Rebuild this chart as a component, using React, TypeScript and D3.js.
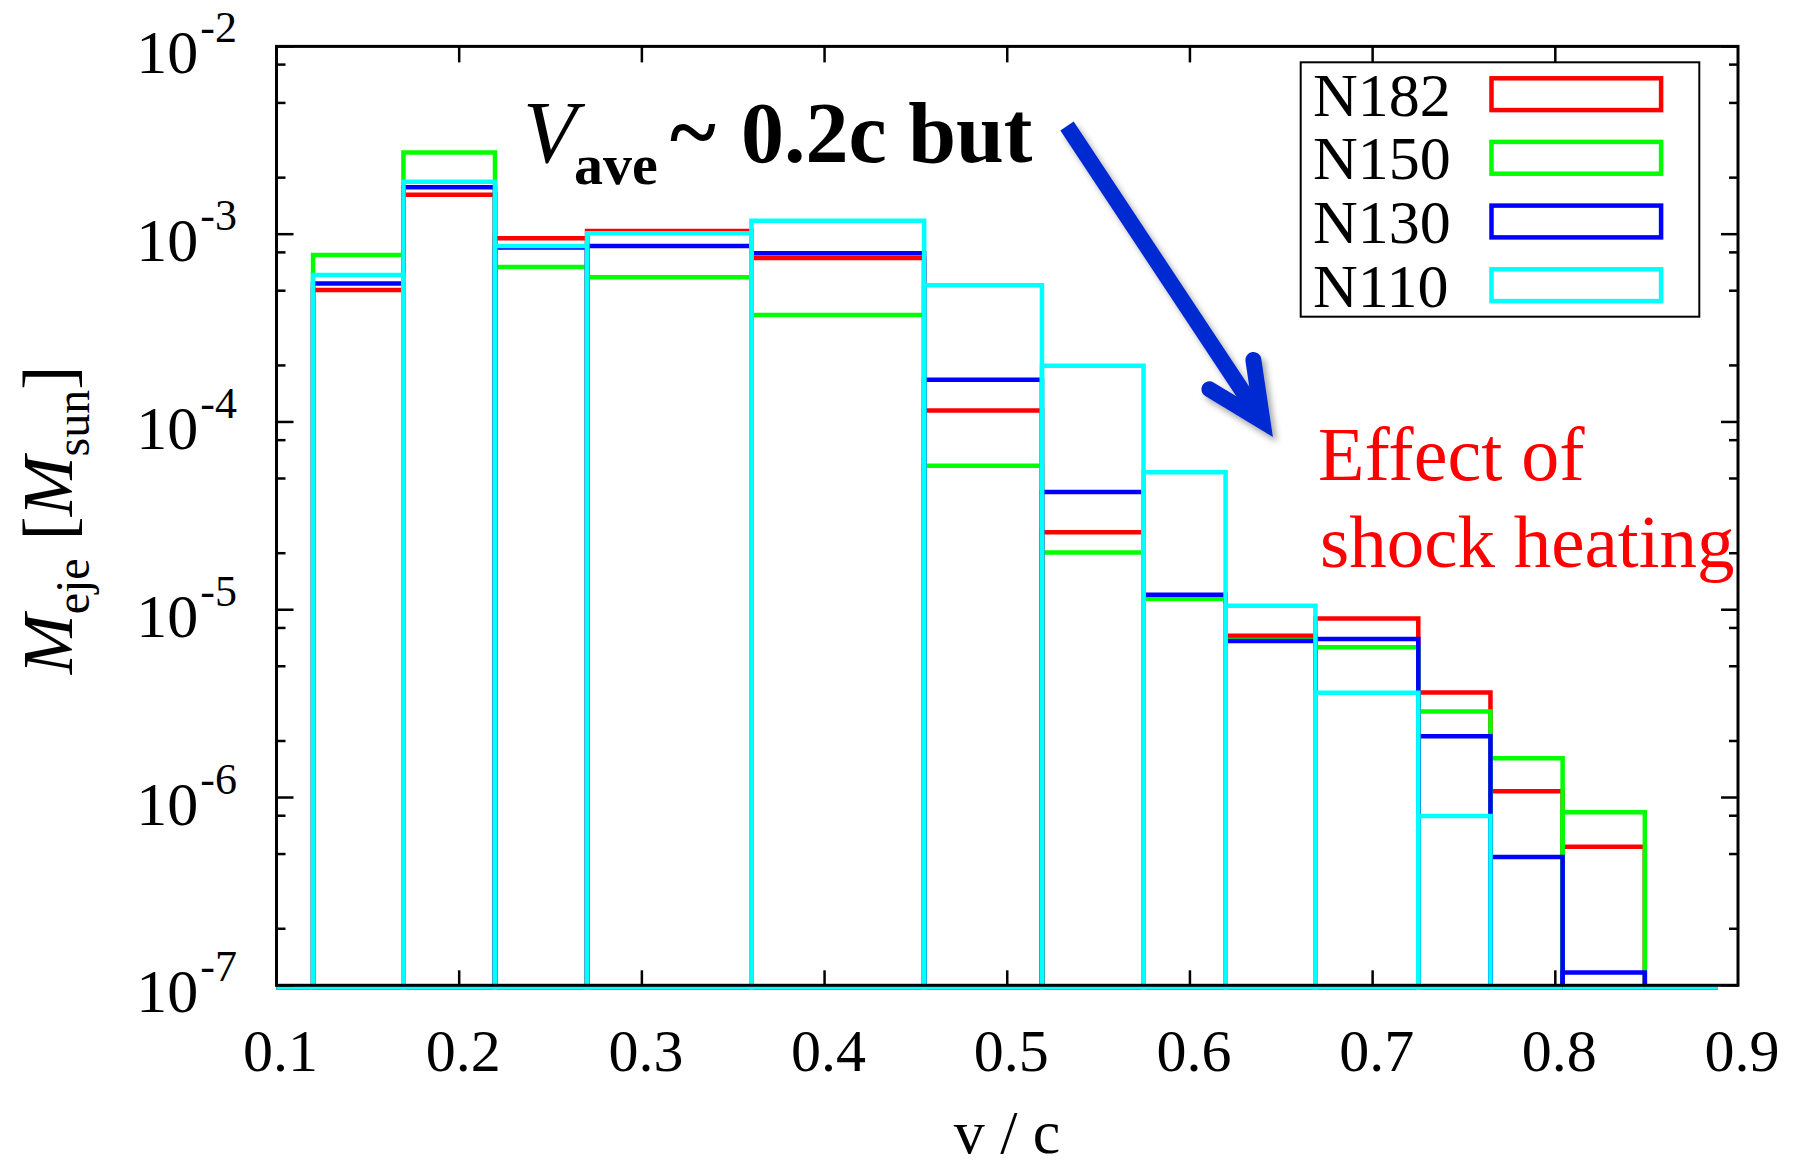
import React from "react";
import * as d3 from "d3";

// Velocity bin edges (v/c) of the ejecta histogram
const binEdges = [0.1, 0.12, 0.1695, 0.2196, 0.27, 0.36, 0.4545, 0.519, 0.5746, 0.6195, 0.6687, 0.725, 0.7645, 0.804, 0.849, 0.889];

// Ejecta mass per bin [M_sun]; 0 marks an empty bin
const massN182 = [0, 5.05e-4, 1.62e-3, 9.51e-4, 1.04e-3, 7.46e-4, 1.15e-4, 2.59e-5, 1.16e-5, 7.28e-6, 8.97e-6, 3.63e-6, 1.08e-6, 5.47e-7, 0];
const massN150 = [0, 7.74e-4, 2.72e-3, 6.69e-4, 5.89e-4, 3.71e-4, 5.85e-5, 2.02e-5, 1.14e-5, 6.9e-6, 6.31e-6, 2.87e-6, 1.62e-6, 8.34e-7, 0];
const massN130 = [0, 5.47e-4, 1.78e-3, 8.5e-4, 8.65e-4, 7.91e-4, 1.68e-4, 4.24e-5, 1.2e-5, 6.82e-6, 6.98e-6, 2.12e-6, 4.82e-7, 1.17e-7, 0];
const massN110 = [0, 6.06e-4, 1.9e-3, 8.65e-4, 1.01e-3, 1.18e-3, 5.34e-4, 1.99e-4, 5.4e-5, 1.05e-5, 3.61e-6, 7.98e-7, 0, 0, 0];

const seriesNames = ["N182", "N150", "N130", "N110"];
const seriesColors = ["#ff0000", "#00ff00", "#0000ff", "#00ffff"];
const seriesMasses = [massN182, massN150, massN130, massN110];

const xTickValues = [0.1, 0.2, 0.3, 0.4, 0.5, 0.6, 0.7, 0.8, 0.9];
const yDecadeExponents = [-2, -3, -4, -5, -6, -7];
const yMinorFactors = [2, 5, 8];

const FONT = "'Liberation Serif', 'Times New Roman', Times, serif";
const W = 1800;
const H = 1172;

const left = 276.5;
const right = 1738;
const top = 46.4;
const bottom = 985.3;

const yMin = 1e-7;
const yMax = 1e-2;

export default function App() {
  const x = d3.scaleLinear().domain([0.1, 0.9]).range([left, right]);
  const y = d3.scaleLog().domain([yMin, yMax]).range([bottom, top]);

  const boxBottom = y(yMin) + 2.2;

  const boxPath = (i: number, v: number) => {
    const x0 = x(binEdges[i]);
    const x1 = x(binEdges[i + 1]);
    const yt = v <= yMin ? boxBottom : y(v);
    return `M${x0},${boxBottom}V${yt}H${x1}V${boxBottom}Z`;
  };

  // minor ticks for every decade
  const minorTicks: number[] = [];
  for (let e = -7; e < -2; e++) {
    for (const f of yMinorFactors) minorTicks.push(f * Math.pow(10, e));
  }

  // arrow geometry (annotation)
  const tip = [1273, 437];
  const dir = [0.555, 0.832];
  const sw = 16;
  const inset = sw / 2 / Math.sin((25 * Math.PI) / 180);
  const vx = tip[0] - dir[0] * inset;
  const vy = tip[1] - dir[1] * inset;
  const back = Math.atan2(-dir[1], -dir[0]);
  const barbLen = 62;
  const b1 = [vx + barbLen * Math.cos(back + 0.44), vy + barbLen * Math.sin(back + 0.44)];
  const b2 = [vx + barbLen * Math.cos(back - 0.44), vy + barbLen * Math.sin(back - 0.44)];
  const shaftStart = [1067, 126];

  const legendX = 1300.7;
  const legendY = 62.3;
  const legendW = 398.6;
  const legendH = 254.4;
  const legendBaselines = [115.7, 179.3, 243, 306.7];

  return (
    <svg
      width={W}
      height={H}
      viewBox={`0 0 ${W} ${H}`}
      style={{ position: "absolute", left: 0, top: 0, background: "#fff" }}
      fontFamily={FONT}
    >
      <defs>
        <filter id="arrowShadow" x="-20%" y="-20%" width="140%" height="140%">
          <feDropShadow dx="4" dy="5" stdDeviation="3" floodColor="#000" floodOpacity="0.35" />
        </filter>
      </defs>
      <rect x={0} y={0} width={W} height={H} fill="#fff" />

      {/* histogram boxes, drawn in series order */}
      {seriesMasses.map((masses, s) => (
        <g key={seriesNames[s]} fill="none" stroke={seriesColors[s]} strokeWidth={4.5} strokeLinejoin="miter">
          {masses.map((v, i) => (
            <path key={i} d={boxPath(i, v)} />
          ))}
        </g>
      ))}

      {/* frame */}
      <rect x={left} y={top} width={right - left} height={bottom - top} fill="none" stroke="#000" strokeWidth={3} />

      {/* x ticks (bottom and top) */}
      {xTickValues.slice(1, -1).map((t) => (
        <g key={`xt${t}`} stroke="#000" strokeWidth={2.5}>
          <line x1={x(t)} x2={x(t)} y1={bottom} y2={bottom - 15} />
          <line x1={x(t)} x2={x(t)} y1={top} y2={top + 16} />
        </g>
      ))}
      {xTickValues.map((t) => (
        <text key={`xl${t}`} x={x(t) + 4} y={1071} fontSize={60} textAnchor="middle" fill="#000">
          {t.toFixed(1)}
        </text>
      ))}

      {/* y ticks (left and right) */}
      {yDecadeExponents.map((e) => {
        const yy = y(Math.pow(10, e));
        return (
          <g key={`yt${e}`} stroke="#000" strokeWidth={2.5}>
            <line x1={left} x2={left + 17} y1={yy} y2={yy} />
            <line x1={right} x2={right - 17} y1={yy} y2={yy} />
          </g>
        );
      })}
      {minorTicks.map((v, i) => (
        <g key={`ym${i}`} stroke="#000" strokeWidth={2.5}>
          <line x1={left} x2={left + 9} y1={y(v)} y2={y(v)} />
          <line x1={right} x2={right - 9} y1={y(v)} y2={y(v)} />
        </g>
      ))}
      {yDecadeExponents.map((e) => (
        <text key={`yl${e}`} x={237} y={y(Math.pow(10, e)) + 27} textAnchor="end" fill="#000">
          <tspan fontSize={62}>10</tspan>
          <tspan fontSize={44} dy={-31} dx={2}>{`-${-e}`}</tspan>
        </text>
      ))}

      {/* axis titles */}
      <text x={1007} y={1153} fontSize={62} textAnchor="middle" fill="#000">
        v / c
      </text>
      <text transform="rotate(-90)" x={-520} y={72} fontSize={72} textAnchor="middle" fill="#000">
        <tspan fontStyle="italic">M</tspan>
        <tspan fontSize={48} dy={17}>eje</tspan>
        <tspan dy={-17}> [</tspan>
        <tspan fontStyle="italic">M</tspan>
        <tspan fontSize={48} dy={17}>sun</tspan>
        <tspan dy={-17}>]</tspan>
      </text>

      {/* legend */}
      <rect x={legendX} y={legendY} width={legendW} height={legendH} fill="#fff" stroke="#000" strokeWidth={2} />
      {seriesNames.map((name, i) => (
        <g key={`lg${name}`}>
          <text x={1313} y={legendBaselines[i]} fontSize={62} fill="#000">
            {name}
          </text>
          <rect
            x={1491.5}
            y={legendBaselines[i] - 37.4}
            width={169.6}
            height={31.8}
            fill="none"
            stroke={seriesColors[i]}
            strokeWidth={4.5}
          />
        </g>
      ))}

      {/* annotations */}
      <text x={523} y={162} fontSize={88} fontStyle="italic" fill="#000">V</text>
      <text x={574} y={184} fontSize={58} fontWeight="bold" fill="#000">ave</text>
      <text x={670} y={162} fontSize={88} fontWeight="bold" fill="#000">~</text>
      <text x={741} y={162} fontSize={86} fontWeight="bold" fill="#000">0.2c but</text>

      <g filter="url(#arrowShadow)" stroke="#0429d1" fill="none" strokeWidth={sw}>
        <line x1={shaftStart[0]} y1={shaftStart[1]} x2={vx} y2={vy} strokeLinecap="butt" />
        <path
          d={`M${b1[0]},${b1[1]}L${vx},${vy}L${b2[0]},${b2[1]}`}
          strokeLinecap="round"
          strokeLinejoin="miter"
          strokeMiterlimit={6}
        />
      </g>

      <text x={1318} y={480} fontSize={76} fill="#ff0000">Effect of</text>
      <text x={1320} y={566.7} fontSize={75} fill="#ff0000">shock heating</text>
    </svg>
  );
}
